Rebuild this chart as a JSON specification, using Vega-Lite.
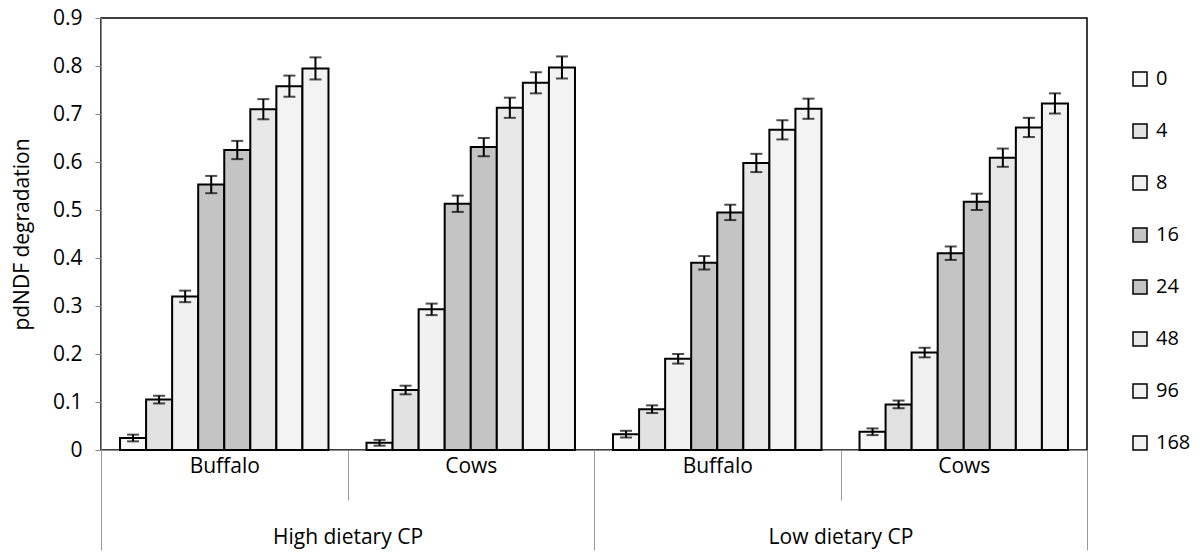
{
  "$schema": "https://vega.github.io/schema/vega-lite/v6.json",
  "width": 986,
  "height": 432,
  "autosize": {"type": "none"},
  "padding": {"left": 101, "top": 18, "right": 113, "bottom": 104},
  "config": {
    "font": "Open Sans",
    "view": {"stroke": "#000", "strokeWidth": 1.5},
    "axis": {"labelColor": "#000", "titleColor": "#000", "labelFont": "Open Sans", "titleFont": "Open Sans"},
    "legend": {"labelFont": "Open Sans", "labelColor": "#000"}
  },
  "data": {"values": [
    {"grp": "High|Buffalo", "time": "0", "v": 0.025, "lo": 0.018, "hi": 0.032},
    {"grp": "High|Buffalo", "time": "4", "v": 0.105, "lo": 0.097, "hi": 0.113},
    {"grp": "High|Buffalo", "time": "8", "v": 0.32, "lo": 0.308, "hi": 0.332},
    {"grp": "High|Buffalo", "time": "16", "v": 0.553, "lo": 0.535, "hi": 0.571},
    {"grp": "High|Buffalo", "time": "24", "v": 0.625, "lo": 0.606, "hi": 0.644},
    {"grp": "High|Buffalo", "time": "48", "v": 0.71, "lo": 0.689, "hi": 0.731},
    {"grp": "High|Buffalo", "time": "96", "v": 0.758, "lo": 0.736, "hi": 0.78},
    {"grp": "High|Buffalo", "time": "168", "v": 0.795, "lo": 0.772, "hi": 0.818},
    {"grp": "High|Cows", "time": "0", "v": 0.015, "lo": 0.009, "hi": 0.021},
    {"grp": "High|Cows", "time": "4", "v": 0.125, "lo": 0.116, "hi": 0.134},
    {"grp": "High|Cows", "time": "8", "v": 0.293, "lo": 0.281, "hi": 0.305},
    {"grp": "High|Cows", "time": "16", "v": 0.513, "lo": 0.496, "hi": 0.53},
    {"grp": "High|Cows", "time": "24", "v": 0.631, "lo": 0.612, "hi": 0.65},
    {"grp": "High|Cows", "time": "48", "v": 0.713, "lo": 0.692, "hi": 0.734},
    {"grp": "High|Cows", "time": "96", "v": 0.765, "lo": 0.743, "hi": 0.787},
    {"grp": "High|Cows", "time": "168", "v": 0.797, "lo": 0.774, "hi": 0.82},
    {"grp": "Low|Buffalo", "time": "0", "v": 0.033, "lo": 0.026, "hi": 0.04},
    {"grp": "Low|Buffalo", "time": "4", "v": 0.085, "lo": 0.077, "hi": 0.093},
    {"grp": "Low|Buffalo", "time": "8", "v": 0.19, "lo": 0.18, "hi": 0.2},
    {"grp": "Low|Buffalo", "time": "16", "v": 0.39, "lo": 0.376, "hi": 0.404},
    {"grp": "Low|Buffalo", "time": "24", "v": 0.495, "lo": 0.479, "hi": 0.511},
    {"grp": "Low|Buffalo", "time": "48", "v": 0.598, "lo": 0.579, "hi": 0.617},
    {"grp": "Low|Buffalo", "time": "96", "v": 0.667, "lo": 0.647, "hi": 0.687},
    {"grp": "Low|Buffalo", "time": "168", "v": 0.711, "lo": 0.69, "hi": 0.732},
    {"grp": "Low|Cows", "time": "0", "v": 0.038, "lo": 0.031, "hi": 0.045},
    {"grp": "Low|Cows", "time": "4", "v": 0.095, "lo": 0.087, "hi": 0.103},
    {"grp": "Low|Cows", "time": "8", "v": 0.203, "lo": 0.193, "hi": 0.213},
    {"grp": "Low|Cows", "time": "16", "v": 0.41, "lo": 0.396, "hi": 0.424},
    {"grp": "Low|Cows", "time": "24", "v": 0.517, "lo": 0.5, "hi": 0.534},
    {"grp": "Low|Cows", "time": "48", "v": 0.609, "lo": 0.59, "hi": 0.628},
    {"grp": "Low|Cows", "time": "96", "v": 0.672, "lo": 0.652, "hi": 0.692},
    {"grp": "Low|Cows", "time": "168", "v": 0.722, "lo": 0.701, "hi": 0.743}
  ]},
  "layer": [
    {
      "encoding": {
        "x": {"field": "grp", "type": "nominal", "axis": null,
              "sort": ["High|Buffalo", "High|Cows", "Low|Buffalo", "Low|Cows"],
              "scale": {"paddingInner": 0, "paddingOuter": 0}},
        "xOffset": {"field": "time", "type": "nominal",
                    "sort": ["0", "4", "8", "16", "24", "48", "96", "168"],
                    "scale": {"paddingInner": 0, "paddingOuter": 0.73}}
      },
      "layer": [
        {
          "mark": {"type": "bar", "stroke": "#000", "strokeWidth": 2},
          "encoding": {
            "y": {"field": "v", "type": "quantitative",
                  "scale": {"domain": [0, 0.9], "nice": false},
                  "axis": {"values": [0, 0.1, 0.2, 0.3, 0.4, 0.5, 0.6, 0.7, 0.8, 0.9],
                           "format": "~g", "grid": false, "domainColor": "#888", "tickColor": "#888",
                           "tickSize": 6, "labelPadding": 13, "labelFontSize": 21,
                           "title": "pdNDF degradation", "titleFontSize": 21, "titleFontWeight": "normal",
                           "titlePadding": 20}},
            "fill": {"field": "time", "type": "nominal",
                     "sort": ["0", "4", "8", "16", "24", "48", "96", "168"],
                     "scale": {"domain": ["0", "4", "8", "16", "24", "48", "96", "168"],
                               "range": ["#f7f7f7", "#e2e2e2", "#f1f1f1", "#c4c4c4", "#c4c4c4", "#e8e8e8", "#f3f3f3", "#f3f3f3"]},
                     "legend": {"orient": "none", "legendX": 1029, "legendY": 51, "title": null,
                                "symbolType": "square", "symbolSize": 196, "symbolStrokeColor": "#000",
                                "symbolStrokeWidth": 1.5, "labelFontSize": 20, "rowPadding": 32,
                                "labelOffset": 6, "padding": 0}}
          }
        },
        {
          "mark": {"type": "rule", "stroke": "#000", "strokeWidth": 2},
          "encoding": {"y": {"field": "lo", "type": "quantitative"}, "y2": {"field": "hi"}}
        },
        {
          "mark": {"type": "tick", "color": "#000", "thickness": 2, "size": 12},
          "encoding": {"y": {"field": "lo", "type": "quantitative"}}
        },
        {
          "mark": {"type": "tick", "color": "#000", "thickness": 2, "size": 12},
          "encoding": {"y": {"field": "hi", "type": "quantitative"}}
        }
      ]
    },
    {
      "mark": {"type": "point", "opacity": 0},
      "encoding": {
        "x": {"datum": 0, "type": "quantitative",
              "scale": {"domain": [0, 4], "nice": false, "zero": false},
              "axis": {"orient": "bottom", "values": [0, 0.5, 1, 1.5, 2, 2.5, 3, 3.5, 4], "grid": false,
                       "domainColor": "#888", "tickSize": 50,
                       "tickColor": {"condition": {"test": "datum.value % 1 === 0", "value": "#999"}, "value": "transparent"},
                       "labelExpr": "datum.value % 2 === 0.5 ? 'Buffalo' : (datum.value % 2 === 1.5 ? 'Cows' : '')",
                       "labelPadding": -45, "labelFontSize": 21, "labelBaseline": "top", "title": null}}
      }
    },
    {
      "mark": {"type": "point", "opacity": 0},
      "encoding": {
        "x": {"datum": 0, "type": "quantitative",
              "scale": {"domain": [0, 2], "nice": false, "zero": false},
              "axis": {"orient": "bottom", "values": [0, 0.5, 1, 1.5, 2], "grid": false, "domain": false, "tickSize": 100,
                       "tickColor": {"condition": {"test": "datum.value % 1 === 0", "value": "#999"}, "value": "transparent"},
                       "labelExpr": "datum.value === 0.5 ? 'High dietary CP' : (datum.value === 1.5 ? 'Low dietary CP' : '')",
                       "labelPadding": -24, "labelFontSize": 21, "labelBaseline": "top", "title": null}}
      }
    }
  ],
  "resolve": {"scale": {"x": "independent"}, "axis": {"x": "independent"}}
}
